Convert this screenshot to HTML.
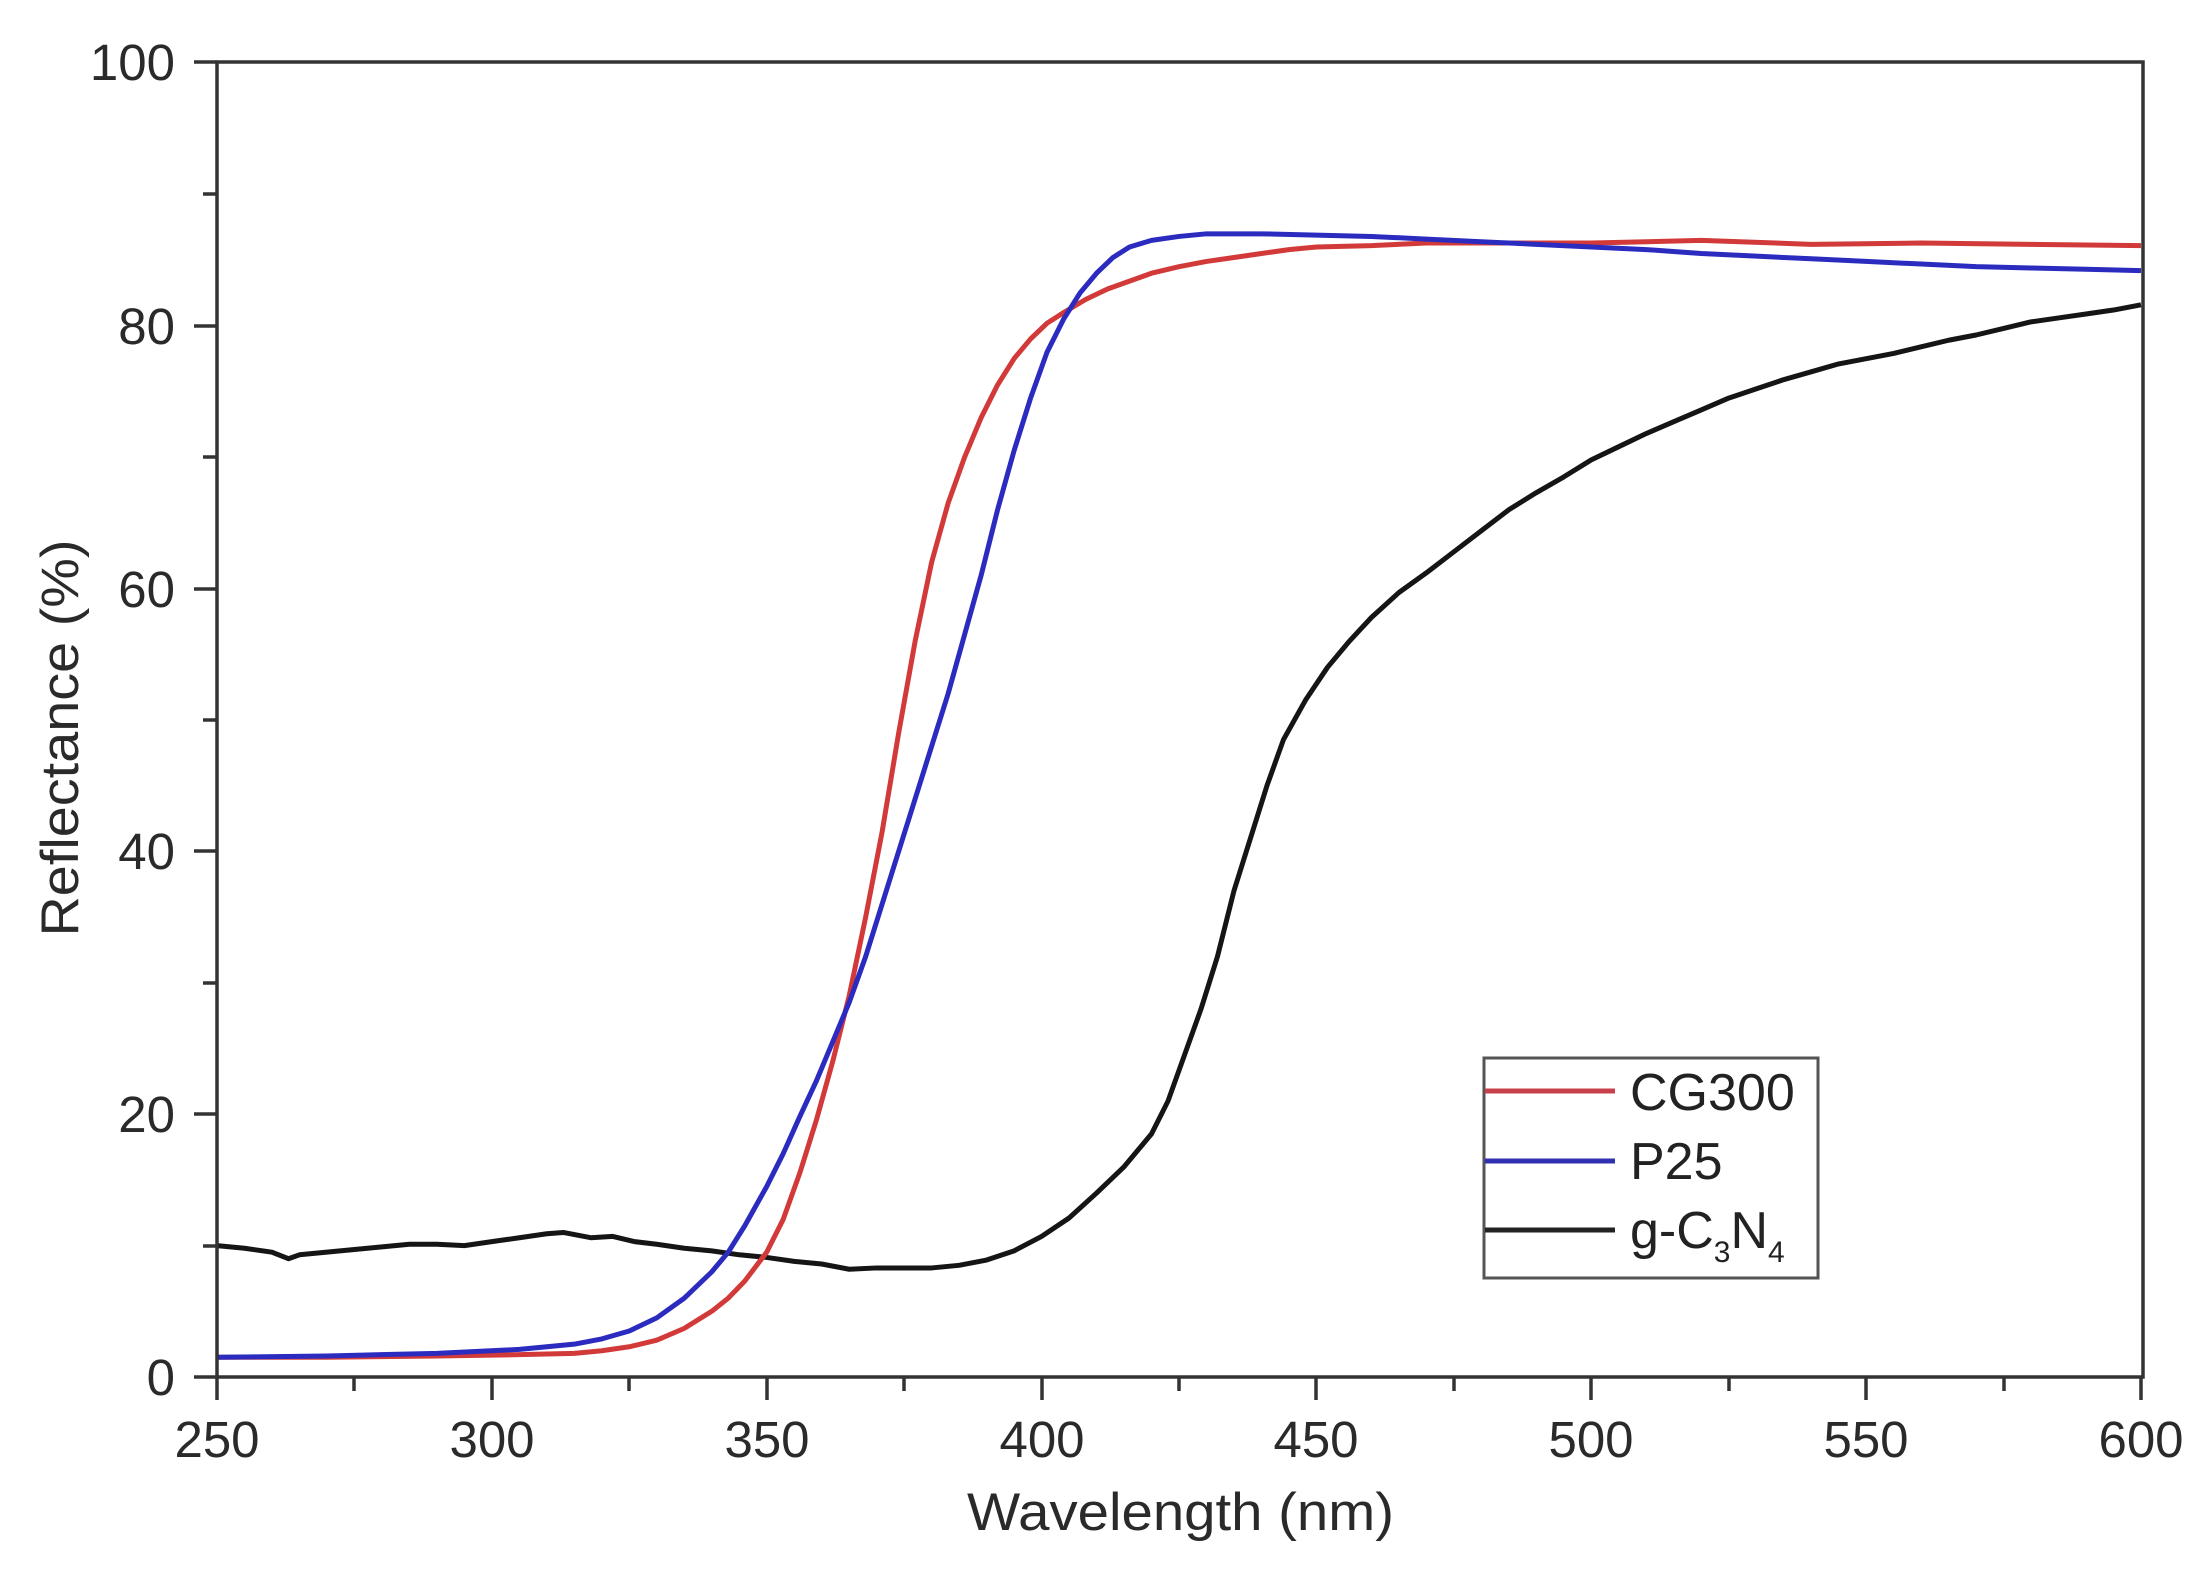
<!DOCTYPE html>
<html><head><meta charset="utf-8"><style>
html,body{margin:0;padding:0;background:#fff;}
svg{display:block;font-family:"Liberation Sans",Arial,sans-serif;}
.s{fill:none;stroke-width:5;vector-effect:non-scaling-stroke;stroke-linejoin:round;}
</style></head><body>
<svg width="2197" height="1581" viewBox="0 0 2197 1581" xmlns="http://www.w3.org/2000/svg">
<rect width="2197" height="1581" fill="#fff"/>
<g transform="translate(217,1377) scale(5.4971,-13.14) translate(-250,0)">
<polyline class="s" stroke="#151515" points="250,10 255,9.8 260,9.5 263,9 265,9.3 270,9.5 275,9.7 280,9.9 285,10.1 290,10.1 295,10.0 300,10.3 305,10.6 310,10.9 313,11 318,10.6 322,10.7 326,10.3 330,10.1 335,9.8 340,9.6 345,9.3 350,9.1 355,8.8 360,8.6 365,8.2 370,8.3 375,8.3 380,8.3 385,8.5 390,8.9 395,9.6 400,10.7 405,12.1 410,14 415,16 420,18.5 423,21 426,24.5 429,28 432,32 435,37 438,41 441,45 444,48.5 448,51.5 452,54 456,56 460,57.8 465,59.7 470,61.2 475,62.8 480,64.4 485,66 490,67.3 495,68.5 500,69.8 505,70.8 510,71.8 515,72.7 520,73.6 525,74.5 530,75.2 535,75.9 540,76.5 545,77.1 550,77.5 555,77.9 560,78.4 565,78.9 570,79.3 575,79.8 580,80.3 585,80.6 590,80.9 595,81.2 600,81.6"/>
<polyline class="s" stroke="#d23a3a" points="250,1.5 270,1.5 290,1.6 305,1.7 315,1.8 320,2 325,2.3 330,2.8 335,3.7 340,5 343,6 346,7.3 350,9.5 353,12 356,15.5 359,19.5 362,24 365,29 368,35 371,41.5 374,49 377,56 380,62 383,66.5 386,70 389,73 392,75.5 395,77.5 398,79 401,80.2 404,81 408,82 412,82.8 416,83.4 420,84 425,84.5 430,84.9 435,85.2 440,85.5 445,85.8 450,86 460,86.1 470,86.3 480,86.3 500,86.3 520,86.5 540,86.2 560,86.3 580,86.2 600,86.1"/>
<polyline class="s" stroke="#2b2bbf" points="250,1.5 270,1.6 290,1.8 305,2.1 315,2.5 320,2.9 325,3.5 330,4.5 335,6 340,8 343,9.5 346,11.5 350,14.5 353,17 356,19.8 359,22.5 362,25.5 365,28.5 368,32 371,36 374,40 377,44 380,48 383,52 386,56.5 389,61 392,66 395,70.5 398,74.5 401,78 404,80.5 407,82.5 410,84 413,85.2 416,86 420,86.5 425,86.8 430,87 440,87 450,86.9 460,86.8 470,86.6 480,86.4 490,86.2 500,86 510,85.8 520,85.5 530,85.3 540,85.1 550,84.9 560,84.7 570,84.5 580,84.4 590,84.3 600,84.2"/>
</g>
<g stroke="#333" stroke-width="3.5" fill="none">
<rect x="217" y="62" width="1926" height="1315"/>
<path d="M217,1377v23 M492,1377v23 M767,1377v23 M1042,1377v23 M1316,1377v23 M1591,1377v23 M1866,1377v23 M2141,1377v23"/>
<path d="M354,1377v14 M629,1377v14 M904,1377v14 M1179,1377v14 M1454,1377v14 M1729,1377v14 M2004,1377v14"/>
<path d="M217,1377h-23 M217,1114h-23 M217,851h-23 M217,589h-23 M217,326h-23 M217,62h-23"/>
<path d="M217,1246h-14 M217,983h-14 M217,720h-14 M217,457h-14 M217,194h-14"/>
</g>
<g font-size="51" fill="#2a2a2a" text-anchor="middle">
<text x="217" y="1457">250</text><text x="492" y="1457">300</text><text x="767" y="1457">350</text><text x="1042" y="1457">400</text><text x="1316" y="1457">450</text><text x="1591" y="1457">500</text><text x="1866" y="1457">550</text><text x="2141" y="1457">600</text>
</g>
<g font-size="51" fill="#2a2a2a" text-anchor="end">
<text x="175" y="1395">0</text><text x="175" y="1132">20</text><text x="175" y="869">40</text><text x="175" y="607">60</text><text x="175" y="344">80</text><text x="175" y="80">100</text>
</g>
<text x="967" y="1530" font-size="53" fill="#2a2a2a" textLength="427" lengthAdjust="spacingAndGlyphs">Wavelength (nm)</text>
<text transform="translate(78,738) rotate(-90)" x="0" y="0" font-size="53" fill="#2a2a2a" text-anchor="middle" textLength="397" lengthAdjust="spacingAndGlyphs">Reflectance (%)</text>
<rect x="1484" y="1058" width="334" height="220" fill="#fff" stroke="#555" stroke-width="3"/>
<g stroke-width="5">
<line x1="1485" y1="1091" x2="1615" y2="1091" stroke="#c8404a"/>
<line x1="1485" y1="1161" x2="1615" y2="1161" stroke="#3030b0"/>
<line x1="1485" y1="1230" x2="1615" y2="1230" stroke="#222"/>
</g>
<g font-size="52" fill="#222">
<text x="1630" y="1110">CG300</text>
<text x="1630" y="1179">P25</text>
<text x="1630" y="1248">g-C<tspan font-size="30" dy="14">3</tspan><tspan dy="-14">N</tspan><tspan font-size="30" dy="14">4</tspan></text>
</g>
</svg>
</body></html>
